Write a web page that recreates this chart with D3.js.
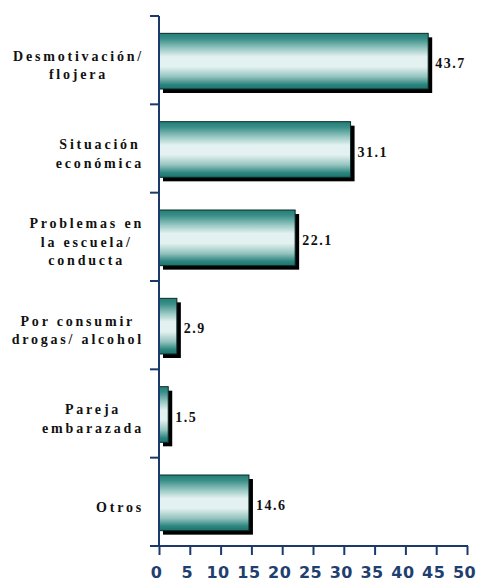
<!DOCTYPE html>
<html>
<head>
<meta charset="utf-8">
<script src="https://cdn.jsdelivr.net/npm/d3@7"></script>
<style>
  html, body { margin: 0; padding: 0; background: #fff; }
  svg { display: block; }
  .cat, .val { font-family: "Liberation Serif", "Times New Roman", serif; font-weight: bold; fill: #111; }
  .xt { font-family: "DejaVu Sans", Verdana, sans-serif; font-weight: bold; fill: #1f3f70; }
</style>
</head>
<body>
<svg id="chart" width="480" height="582"></svg>
<script>
// Reasons for leaving school (%)
const categories = [
  ["Desmotivación/", "flojera"],
  ["Situación", "económica"],
  ["Problemas en", "la escuela/", "conducta"],
  ["Por consumir", "drogas/ alcohol"],
  ["Pareja", "embarazada"],
  ["Otros"]
];
const values = [43.7, 31.1, 22.1, 2.9, 1.5, 14.6];
const tickValues = [0, 5, 10, 15, 20, 25, 30, 35, 40, 45, 50];

const svg = d3.select("#chart");
const axisColor = "#1b3a6b";

const x = d3.scaleLinear().domain([0, 50]).range([159, 467]);
const y = d3.scaleBand().domain(d3.range(categories.length)).range([16, 546]).padding(0);

// Cylinder-like vertical gradient for the bar faces
const defs = svg.append("defs");
const grad = defs.append("linearGradient")
  .attr("id", "barGrad").attr("x1", 0).attr("y1", 0).attr("x2", 0).attr("y2", 1);
[
  [0, "#237d76"], [0.1, "#3a8f88"], [0.28, "#9ccac5"],
  [0.42, "#e3f1f0"], [0.6, "#e3f1f0"], [0.78, "#93c3be"],
  [0.92, "#2c857e"], [1, "#1a746d"]
].forEach(([o, c]) => grad.append("stop").attr("offset", o).attr("stop-color", c));

const barFrac = 0.63;
const shadow = 4;
const bh = y.bandwidth() * barFrac;
const barTop = i => y(i) + (y.bandwidth() - bh) / 2 + 1;

const bars = svg.append("g").selectAll("g").data(values).join("g");

// drop shadow
bars.append("rect")
  .attr("x", x(0) + shadow)
  .attr("y", (d, i) => barTop(i) + shadow)
  .attr("width", d => x(d) - x(0))
  .attr("height", bh)
  .attr("fill", "#000");

// bar face
bars.append("rect")
  .attr("x", x(0))
  .attr("y", (d, i) => barTop(i))
  .attr("width", d => x(d) - x(0))
  .attr("height", bh)
  .attr("fill", "url(#barGrad)")
  .attr("stroke", "#0a2a28")
  .attr("stroke-width", 1);

// value labels
bars.append("text")
  .attr("class", "val")
  .attr("x", d => x(d) + shadow + 3)
  .attr("y", (d, i) => y(i) + y.bandwidth() / 2 + 8)
  .style("font-size", "14px")
  .style("letter-spacing", "1.5px")
  .text(d => d.toFixed(1));

// y axis (category boundaries)
const yAxisG = svg.append("g");
yAxisG.append("line")
  .attr("x1", x(0)).attr("x2", x(0)).attr("y1", 16).attr("y2", 546)
  .attr("stroke", axisColor).attr("stroke-width", 2);
const bounds = d3.range(categories.length).map(i => y(i)).concat([y.range()[1]]);
yAxisG.selectAll("line.tick").data(bounds).join("line")
  .attr("class", "tick")
  .attr("x1", x(0) - 9).attr("x2", x(0))
  .attr("y1", d => d).attr("y2", d => d)
  .attr("stroke", axisColor).attr("stroke-width", 2);

// x axis
const xAxis = d3.axisBottom(x).tickValues(tickValues).tickSize(9).tickSizeOuter(0).tickFormat(d3.format("d"));
const xg = svg.append("g").attr("transform", "translate(0,546)").call(xAxis);
xg.select(".domain").attr("stroke", axisColor).attr("stroke-width", 2)
  .attr("d", `M${x(0) - 9},0H${x(50) + 1}`);
xg.selectAll(".tick line").attr("stroke", axisColor).attr("stroke-width", 2);
xg.selectAll(".tick text")
  .attr("class", "xt")
  .attr("y", 20).attr("dy", "0.75em").attr("dx", -3)
  .attr("fill", null)
  .style("font-size", "16px")
  .style("letter-spacing", "0.5px");

// category labels: lines centred within a block whose right edge is fixed
const rightEdge = 144;
const lineH = 18.5;
categories.forEach((lines, i) => {
  const g = svg.append("g");
  const cy = y(i) + y.bandwidth() / 2;
  const texts = lines.map((t, k) => g.append("text")
    .attr("class", "cat")
    .style("font-size", "14px")
    .style("letter-spacing", "2.8px")
    .attr("text-anchor", "middle")
    .attr("y", cy + (k - (lines.length - 1) / 2) * lineH + 10)
    .text(t));
  const w = d3.max(texts, t => t.node().getComputedTextLength());
  texts.forEach(t => t.attr("x", rightEdge - w / 2));
});
</script>
</body>
</html>
